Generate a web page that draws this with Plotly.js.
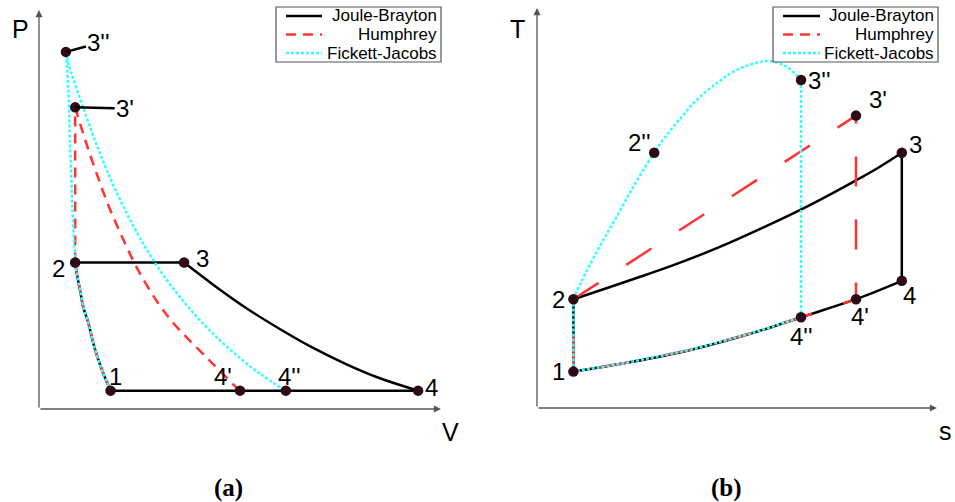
<!DOCTYPE html>
<html><head><meta charset="utf-8">
<script src="https://cdn.plot.ly/plotly-3.0.1.min.js"></script>
<style>html,body{margin:0;padding:0;background:#fff}#chart{width:955px;height:502px}</style>
</head><body><div id="chart"></div>
<script>
// ---------- DATA (arbitrary units, axes run 0..100) ----------
const seriesNames = ["Joule-Brayton", "Humphrey", "Fickett-Jacobs"];

// Panel (a): P-V state points
const pvPointLabels = ["1", "2", "3", "4", "3'", "4'", "3''", "4''"];
const pvPointV = [17.8, 9.0, 36.1, 94.3, 9.0, 50.0, 6.7, 61.4];
const pvPointP = [4.6, 36.7, 36.7, 4.6, 75.6, 4.6, 89.5, 4.6];

// Panel (a): process curves
const pvCompV = [17.8, 16.0, 14.5, 13.3, 12.3, 11.0, 10.2, 9.4, 9.0];
const pvCompP = [4.6, 8.9, 13.1, 17.3, 21.5, 25.6, 29.8, 34.0, 36.7];
const pvJBExpV = [36.1, 43.4, 51.7, 60.0, 68.2, 76.5, 84.8, 94.3];
const pvJBExpP = [36.7, 31.1, 25.2, 20.0, 15.3, 11.2, 7.7, 4.6];
const pvHuExpV = [9.0, 11.5, 14.3, 17.4, 21.0, 25.1, 30.3, 34.6, 42.7, 49.3, 50.0];
const pvHuExpP = [75.6, 67.4, 59.1, 50.7, 42.4, 34.0, 25.6, 20.2, 11.9, 5.2, 4.6];
const pvFjCombV = [9.0, 8.3, 7.7, 7.3, 6.7];
const pvFjCombP = [36.7, 50.7, 67.4, 80.0, 89.5];
const pvFjExpV = [6.7, 8.1, 10.9, 13.9, 17.2, 21.0, 25.4, 30.6, 37.1, 44.9, 54.9, 61.4];
const pvFjExpP = [89.5, 84.1, 75.8, 67.4, 59.1, 50.7, 42.4, 34.0, 25.6, 17.3, 8.9, 4.6];

// Panel (b): T-s state points
const tsPointLabels = ["1", "2", "2''", "3''", "3'", "3", "4", "4'", "4''"];
const tsPointS = [9.1, 9.1, 29.3, 66.0, 79.75, 91.2, 91.2, 79.75, 66.0];
const tsPointT = [9.1, 27.2, 63.8, 82.0, 73.1, 63.8, 31.8, 27.2, 22.7];

// Panel (b): process curves
const tsJBHeatS = [9.1, 16.6, 24.9, 33.25, 41.6, 49.9, 58.25, 66.6, 72.4, 79.75, 84.9, 91.2];
const tsJBHeatT = [27.2, 29.7, 32.5, 35.4, 38.6, 42.1, 45.9, 49.9, 52.9, 56.9, 59.8, 63.8];
const tsBottomS = [91.2, 79.75, 66.0, 55.75, 39.1, 22.4, 9.1];
const tsBottomT = [31.8, 27.2, 22.7, 19.3, 14.7, 11.3, 9.1];
const tsFjArcS = [9.1, 10.9, 15.2, 19.9, 24.6, 29.3, 32.8, 36.2, 39.9, 44.9, 49.9, 54.9, 58.25, 62.4, 66.0];
const tsFjArcT = [27.2, 31.2, 39.5, 47.8, 56.2, 63.8, 68.7, 72.8, 77.0, 81.2, 84.5, 86.3, 86.75, 85.3, 82.0];

// ---------- STYLES ----------
const BLACK = '#000000', RED = '#ff3333', CYAN = '#33ffff', MARK = '#2d0a16', AXC = '#555555';
const LW = 2.5;
const FONT = 'Liberation Sans, Arial, Helvetica, sans-serif';
const dashPV = '10px,7px', dashTS = '30px,33px', dotted = '3px,2px';

function pt(labels, xs, ys, name) { const i = labels.indexOf(name); return [xs[i], ys[i]]; }
function seg(x, y, xa, ya, color, dash, spline) {
  return { type: 'scatter', mode: 'lines', x: x, y: y, xaxis: xa, yaxis: ya, showlegend: false, hoverinfo: 'skip',
    line: { color: color, width: LW, dash: dash || 'solid', shape: spline ? 'spline' : 'linear', smoothing: 1 } };
}
const PV = (n) => pt(pvPointLabels, pvPointV, pvPointP, n);
const TS = (n) => pt(tsPointLabels, tsPointS, tsPointT, n);
function two(a, b) { return [[a[0], b[0]], [a[1], b[1]]]; }

const traces = [];
// ----- P-V -----
traces.push(seg(pvCompV, pvCompP, 'x', 'y', BLACK, null, true));
let s = two(PV('2'), PV('3')); traces.push(seg(s[0], s[1], 'x', 'y', BLACK));
traces.push(seg(pvJBExpV, pvJBExpP, 'x', 'y', BLACK, null, true));
s = two(PV('4'), PV('1')); traces.push(seg(s[0], s[1], 'x', 'y', BLACK));
traces.push(seg(pvCompV, pvCompP, 'x', 'y', RED, dashPV, true));
s = two(PV('2'), PV("3'")); traces.push(seg(s[0], s[1], 'x', 'y', RED, dashPV));
traces.push(seg(pvHuExpV, pvHuExpP, 'x', 'y', RED, dashPV, true));
traces.push(seg(pvCompV, pvCompP, 'x', 'y', CYAN, dotted, true));
traces.push(seg(pvFjCombV, pvFjCombP, 'x', 'y', CYAN, dotted, true));
traces.push(seg(pvFjExpV, pvFjExpP, 'x', 'y', CYAN, dotted, true));
traces.push({ type: 'scatter', mode: 'markers', x: pvPointV, y: pvPointP, xaxis: 'x', yaxis: 'y', showlegend: false,
  marker: { color: MARK, size: 10.5 }, hoverinfo: 'skip' });

// ----- T-s -----
s = two(TS('1'), TS('2')); traces.push(seg(s[0], s[1], 'x2', 'y2', BLACK));
traces.push(seg(tsJBHeatS, tsJBHeatT, 'x2', 'y2', BLACK, null, true));
s = two(TS('3'), TS('4')); traces.push(seg(s[0], s[1], 'x2', 'y2', BLACK));
traces.push(seg(tsBottomS, tsBottomT, 'x2', 'y2', BLACK, null, true));
const hu4i = tsBottomS.indexOf(TS("4'")[0]);
const huS = [TS('2')[0], TS("3'")[0]].concat(tsBottomS.slice(hu4i), [TS('2')[0]]);
const huT = [TS('2')[1], TS("3'")[1]].concat(tsBottomT.slice(hu4i), [TS('2')[1]]);
traces.push(seg(huS, huT, 'x2', 'y2', RED, dashTS));
s = two(TS('1'), TS('2')); traces.push(seg(s[0], s[1], 'x2', 'y2', CYAN, dotted));
traces.push(seg(tsFjArcS, tsFjArcT, 'x2', 'y2', CYAN, dotted, true));
const fj4i = tsBottomS.indexOf(TS("4''")[0]);
traces.push(seg([TS("3''")[0]].concat(tsBottomS.slice(fj4i)), [TS("3''")[1]].concat(tsBottomT.slice(fj4i)), 'x2', 'y2', CYAN, dotted));
traces.push({ type: 'scatter', mode: 'markers', x: tsPointS, y: tsPointT, xaxis: 'x2', yaxis: 'y2', showlegend: false,
  marker: { color: MARK, size: 10.5 }, hoverinfo: 'skip' });

// ---------- LAYOUT ----------
const W = 955, H = 502;
const px = (v) => v / W, py = (v) => 1 - v / H;
const hidden = { range: [0, 100], visible: false, fixedrange: true };
const layout = {
  width: W, height: H, margin: { l: 0, r: 0, t: 0, b: 0 }, paper_bgcolor: '#fff', plot_bgcolor: '#fff',
  showlegend: false,
  xaxis: Object.assign({ domain: [px(39), px(441)] }, hidden),
  yaxis: Object.assign({ domain: [1 - 409 / H, 1 - 10 / H] }, hidden),
  xaxis2: Object.assign({ domain: [px(537), px(937)] }, hidden),
  yaxis2: Object.assign({ domain: [1 - 408 / H, 1 - 8 / H] }, hidden),
  annotations: [], shapes: []
};
const A = layout.annotations;
function axisArrow(xr, yr, x, y) {
  A.push({ xref: xr, yref: yr, axref: xr, ayref: yr, x: x, y: y, ax: 0, ay: 0, text: '', showarrow: true,
    arrowhead: 2, arrowsize: 1.1, arrowwidth: 1.3, arrowcolor: AXC, standoff: 0, startstandoff: 0 });
}
axisArrow('x', 'y', 0, 100); axisArrow('x', 'y', 100, 0);
axisArrow('x2', 'y2', 0, 100); axisArrow('x2', 'y2', 100, 0);

function ptext(t, x, y, size, fam) {
  A.push({ xref: 'paper', yref: 'paper', x: px(x), y: py(y), xanchor: 'center', yanchor: 'middle',
    text: t, showarrow: false, font: { size: size, family: fam, color: '#000' } });
}
ptext('P', 20, 29, 25, FONT); ptext('V', 450, 432, 25, FONT);
ptext('T', 517, 29, 25, FONT); ptext('s', 945, 431, 25, FONT);
ptext('<b>(a)</b>', 228, 488, 25, 'Liberation Serif, Times New Roman, serif');
ptext('<b>(b)</b>', 726, 488, 25, 'Liberation Serif, Times New Roman, serif');

const LBL = 24;
const pvShift = { '1': [5, 14], '2': [-16.5, -6], '3': [18.5, 4.5], '4': [13, 3.5], "4'": [-17, 14], "4''": [3.5, 14] };
pvPointLabels.forEach((l, i) => {
  if (pvShift[l]) A.push({ xref: 'x', yref: 'y', x: pvPointV[i], y: pvPointP[i], text: l, showarrow: false,
    xshift: pvShift[l][0], yshift: pvShift[l][1], font: { size: LBL, family: FONT, color: '#000' } });
});
const pvLeader = { "3'": [50, 1], "3''": [33, -9] };
pvPointLabels.forEach((l, i) => {
  if (pvLeader[l]) A.push({ xref: 'x', yref: 'y', x: pvPointV[i], y: pvPointP[i], text: l, showarrow: true,
    ax: pvLeader[l][0], ay: pvLeader[l][1], arrowhead: 0, arrowwidth: 2.5, arrowcolor: '#000', standoff: 0,
    font: { size: LBL, family: FONT, color: '#000' } });
});
const tsShift = { '1': [-14.5, 0], '2': [-15, 0], "2''": [-14.5, 10], "3''": [18, 0], "3'": [22, 16],
  '3': [13.5, 8], '4': [7.5, -14.5], "4'": [4, -17], "4''": [0, -19] };
tsPointLabels.forEach((l, i) => {
  A.push({ xref: 'x2', yref: 'y2', x: tsPointS[i], y: tsPointT[i], text: l, showarrow: false,
    xshift: tsShift[l][0], yshift: tsShift[l][1], font: { size: LBL, family: FONT, color: '#000' } });
});

const legendStyles = [[BLACK, 'solid'], [RED, '10px,7px'], [CYAN, dotted]];
function legend(x0, x1, sx0, sx1, tx) {
  layout.shapes.push({ type: 'rect', xref: 'paper', yref: 'paper', x0: px(x0), x1: px(x1), y0: py(62), y1: py(7),
    line: { color: AXC, width: 1.2 }, fillcolor: 'rgba(255,255,255,1)', layer: 'above' });
  const rows = [16, 34.5, 53];
  seriesNames.forEach((n, k) => {
    layout.shapes.push({ type: 'line', xref: 'paper', yref: 'paper', x0: px(sx0), x1: px(sx1), y0: py(rows[k]), y1: py(rows[k]),
      line: { color: legendStyles[k][0], width: LW, dash: legendStyles[k][1] }, layer: 'above' });
    A.push({ xref: 'paper', yref: 'paper', x: px(tx), y: py(rows[k]), xanchor: 'right', yanchor: 'middle', text: n,
      showarrow: false, font: { size: 17, family: FONT, color: '#000' } });
  });
}
legend(276, 441, 286, 322, 439);
legend(773, 938, 783, 820, 936);

Plotly.newPlot('chart', traces, layout, { staticPlot: true, displayModeBar: false });
</script></body></html>
